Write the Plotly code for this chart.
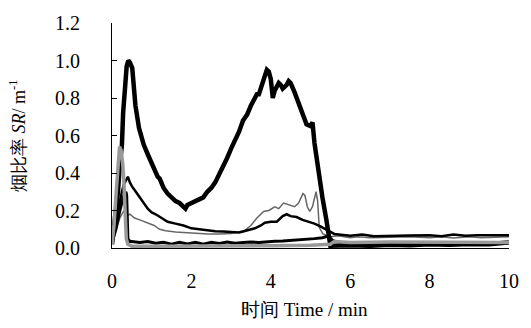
import plotly.graph_objects as go

# Series A: thick black curve (two peaks)
t_a = [0, 0.1, 0.15, 0.2, 0.25, 0.28, 0.33, 0.37, 0.41, 0.45, 0.51, 0.55, 0.59, 0.68, 0.76, 0.8, 0.9, 1.0,
       1.1, 1.15, 1.2, 1.3, 1.4, 1.5, 1.6, 1.7, 1.8, 1.85, 1.9, 2.0, 2.1, 2.2, 2.3, 2.4, 2.5, 2.6,
       2.7, 2.8, 2.9, 3.0, 3.1, 3.2, 3.3, 3.4, 3.5, 3.6, 3.65, 3.7, 3.8, 3.9, 3.95, 4.0, 4.05, 4.1,
       4.2, 4.25, 4.3, 4.4, 4.45, 4.5, 4.6, 4.7, 4.8, 4.9, 5.0, 5.05, 5.1, 5.2, 5.3, 5.4, 5.47, 5.5,
       6.0, 6.5, 7.0, 7.5, 8.0, 8.5, 9.0, 9.5, 9.9, 10.0]
v_a = [0.02, 0.18, 0.3, 0.45, 0.55, 0.72, 0.9, 0.97, 1.0, 0.99, 0.96, 0.86, 0.76, 0.64, 0.57, 0.55, 0.50, 0.45,
       0.41, 0.38, 0.37, 0.32, 0.29, 0.27, 0.25, 0.24, 0.22, 0.21, 0.23, 0.24, 0.25, 0.26, 0.27, 0.30, 0.32, 0.35,
       0.39, 0.44, 0.48, 0.53, 0.57, 0.62, 0.68, 0.71, 0.76, 0.80, 0.82, 0.82, 0.88, 0.95, 0.94, 0.90, 0.80, 0.84,
       0.88, 0.87, 0.85, 0.87, 0.89, 0.88, 0.83, 0.77, 0.72, 0.66, 0.65, 0.67, 0.56, 0.40, 0.27, 0.15, 0.04, 0.012,
       0.015, 0.012, 0.018, 0.015, 0.02, 0.018, 0.022, 0.02, 0.028, 0.03]

# Series B: medium black curve
t_b = [0, 0.05, 0.1, 0.15, 0.2, 0.25, 0.3, 0.35, 0.4, 0.45, 0.5, 0.6, 0.7, 0.8, 0.9, 1.0, 1.1, 1.25, 1.4,
       1.6, 1.8, 2.0, 2.2, 2.4, 2.6, 2.8, 3.0, 3.2, 3.3, 3.45, 3.6, 3.75, 3.85, 4.0, 4.15, 4.3, 4.4, 4.5,
       4.65, 4.8, 4.98, 5.1, 5.25, 5.39, 5.51, 5.6, 6.0, 6.3, 6.6, 7.0, 7.5, 8.0, 8.3, 8.6, 8.9, 9.2, 9.6, 10.0]
v_b = [0.03, 0.08, 0.14, 0.2, 0.26, 0.3, 0.34, 0.36, 0.38, 0.35, 0.33, 0.30, 0.27, 0.24, 0.21, 0.19, 0.18, 0.16, 0.14,
       0.13, 0.12, 0.105, 0.10, 0.092, 0.09, 0.088, 0.085, 0.083, 0.088, 0.095, 0.105, 0.12, 0.135, 0.14, 0.14, 0.17, 0.18, 0.17,
       0.165, 0.15, 0.14, 0.13, 0.115, 0.10, 0.085, 0.075, 0.065, 0.072, 0.063, 0.066, 0.067, 0.068, 0.063, 0.072, 0.066, 0.068, 0.068, 0.068]

# Series C: thin grey curve
t_c = [0, 0.1, 0.2, 0.3, 0.36, 0.45, 0.57, 0.7, 0.82, 0.94, 1.06, 1.2, 1.35, 1.6, 1.9, 2.1, 2.42, 2.7, 3.0,
       3.2, 3.33, 3.5, 3.65, 3.82, 3.95, 4.1, 4.2, 4.32, 4.45, 4.6, 4.7, 4.81, 4.86, 4.92, 4.98, 5.05, 5.14,
       5.18, 5.22, 5.31, 5.5, 5.7, 6.0, 6.2, 6.5, 7.0, 7.5, 8.0, 8.3, 8.6, 9.0, 9.3, 9.6, 10.0]
v_c = [0.04, 0.1, 0.16, 0.2, 0.17, 0.18, 0.16, 0.15, 0.14, 0.127, 0.12, 0.10, 0.092, 0.085, 0.08, 0.078, 0.075, 0.075, 0.078,
       0.085, 0.092, 0.12, 0.16, 0.195, 0.20, 0.22, 0.21, 0.24, 0.23, 0.22, 0.24, 0.29, 0.28, 0.22, 0.195, 0.22, 0.30,
       0.25, 0.11, 0.075, 0.06, 0.065, 0.055, 0.06, 0.055, 0.058, 0.06, 0.055, 0.06, 0.054, 0.06, 0.055, 0.058, 0.06]

# Series D: grey early spike
t_d = [0, 0.05, 0.1, 0.15, 0.19, 0.23, 0.27, 0.3, 0.33, 0.36, 0.4, 0.5, 1.0, 2.0, 3.0, 4.0, 5.0, 5.5, 5.6, 6.0,
       7.0, 8.0, 9.0, 10.0]
v_d = [0.02, 0.12, 0.28, 0.45, 0.54, 0.52, 0.45, 0.35, 0.2, 0.05, 0.02, 0.01, 0.01, 0.01, 0.01, 0.012, 0.015, 0.02, 0.035, 0.03,
       0.032, 0.03, 0.032, 0.03]

# Series E: black early peak then low
t_e = [0, 0.1, 0.2, 0.28, 0.35, 0.37, 0.4, 0.45, 0.5, 0.7, 0.9, 1.1, 1.3, 1.5, 1.7, 1.9, 2.1, 2.3, 2.5, 2.7,
       2.9, 3.1, 3.3, 3.5, 3.7, 3.9, 4.1, 4.3, 4.5, 4.7, 4.9, 5.1, 5.3, 5.47, 5.55, 5.7, 6.0, 6.5, 7.0,
       7.5, 8.0, 8.5, 9.0, 9.5, 10.0]
v_e = [0.03, 0.1, 0.2, 0.27, 0.3, 0.28, 0.05, 0.035, 0.035, 0.03, 0.035, 0.025, 0.03, 0.02, 0.03, 0.022, 0.03, 0.02, 0.03, 0.024,
       0.032, 0.026, 0.03, 0.032, 0.03, 0.035, 0.036, 0.038, 0.04, 0.042, 0.044, 0.05, 0.055, 0.065, 0.04, 0.03, 0.028, 0.03, 0.026,
       0.028, 0.025, 0.028, 0.026, 0.028, 0.03]

y_ticks = [0.0, 0.2, 0.4, 0.6, 0.8, 1.0, 1.2]
x_ticks = [0, 2, 4, 6, 8, 10]

fig = go.Figure()
fig.add_trace(go.Scatter(x=t_c, y=v_c, mode="lines", line=dict(color="#666666", width=1.5)))
fig.add_trace(go.Scatter(x=t_e, y=v_e, mode="lines", line=dict(color="black", width=3)))
fig.add_trace(go.Scatter(x=t_b, y=v_b, mode="lines", line=dict(color="black", width=2.5)))
fig.add_trace(go.Scatter(x=t_a, y=v_a, mode="lines", line=dict(color="black", width=4.5)))
fig.add_trace(go.Scatter(x=t_d, y=v_d, mode="lines", line=dict(color="#999999", width=3.5)))

serif = "Liberation Serif"
fig.update_layout(
    width=531, height=328,
    margin=dict(l=112, r=15, t=13, b=80),
    paper_bgcolor="white", plot_bgcolor="white",
    showlegend=False,
    font=dict(family=serif, size=19, color="black"),
)
fig.update_xaxes(range=[0, 10], tickvals=x_ticks, ticks="", showgrid=False, zeroline=False,
                 showline=True, linecolor="black", linewidth=1, ticklabelstandoff=15,
                 tickfont=dict(family=serif, size=20))
fig.update_yaxes(range=[0, 1.2], tickvals=y_ticks, tickformat=".1f", ticks="inside", ticklen=5,
                 tickcolor="black", showgrid=False, zeroline=False, showline=True,
                 linecolor="black", linewidth=1, ticklabelstandoff=27,
                 tickfont=dict(family=serif, size=20))

fig.add_annotation(text="烟比率 <i>SR</i>/ m<sup>-1</sup>", xref="paper", yref="paper",
                   x=-0.238, y=0.5, textangle=-90, showarrow=False, xanchor="center", yanchor="middle",
                   font=dict(family=serif, size=18))
fig.add_annotation(text="时间 Time / min", xref="paper", yref="paper",
                   x=0.485, y=-0.275, showarrow=False, xanchor="center", yanchor="middle",
                   font=dict(family=serif, size=19))

fig.write_html("out.html", config={"displayModeBar": False},
               post_script="document.body.style.margin='0';document.body.style.padding='0';")
